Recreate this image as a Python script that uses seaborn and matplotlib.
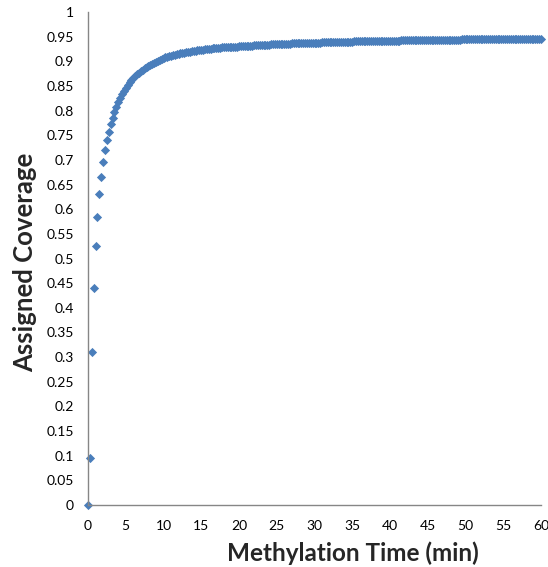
import numpy as np
import pandas as pd
import matplotlib
matplotlib.use("Agg")
import matplotlib.pyplot as plt
import seaborn as sns

# Sampling grid of methylation time (min)
t_start, t_step, t_count = 0.0, 0.25, 241

# Assigned coverage, in time order
cov_rise = [0.000, 0.095, 0.310, 0.440, 0.525, 0.585, 0.630, 0.665, 0.695, 0.720,
            0.740, 0.757, 0.772, 0.785, 0.797, 0.807, 0.817, 0.825, 0.833, 0.840,
            0.846, 0.852, 0.857, 0.862, 0.866, 0.870, 0.874, 0.877, 0.880, 0.883,
            0.886, 0.888, 0.891, 0.893, 0.895, 0.897, 0.899, 0.901, 0.903, 0.904]
cov_mid = [0.907, 0.908, 0.909, 0.910, 0.911, 0.912, 0.913, 0.914, 0.915, 0.916,
           0.916, 0.917, 0.918, 0.919, 0.919, 0.920, 0.920, 0.921, 0.922, 0.922,
           0.923, 0.923, 0.924, 0.924, 0.925, 0.925, 0.926, 0.926, 0.926, 0.927,
           0.927, 0.928, 0.928, 0.928, 0.929, 0.929, 0.929, 0.930, 0.930, 0.930,
           0.931, 0.931, 0.931, 0.931, 0.932, 0.932, 0.932, 0.932, 0.933, 0.933,
           0.933, 0.933, 0.934, 0.934, 0.934, 0.934, 0.934, 0.935, 0.935, 0.935,
           0.935, 0.935, 0.936, 0.936, 0.936, 0.936, 0.936, 0.936, 0.937, 0.937,
           0.937, 0.937, 0.937, 0.937, 0.938, 0.938, 0.938, 0.938, 0.938, 0.938,
           0.938, 0.938, 0.938, 0.938, 0.939, 0.939]
cov_plateau = [0.939, 0.939, 0.939, 0.939, 0.939, 0.940, 0.940, 0.940, 0.940, 0.940,
               0.940, 0.940, 0.940, 0.940, 0.940, 0.941, 0.941, 0.941, 0.941, 0.941,
               0.941, 0.941, 0.941, 0.941, 0.941, 0.941, 0.942, 0.942, 0.942, 0.942,
               0.942, 0.942, 0.942, 0.942, 0.942, 0.942, 0.942, 0.942, 0.942, 0.942,
               0.943, 0.943, 0.943, 0.943, 0.943, 0.943, 0.943, 0.943, 0.943, 0.943,
               0.943, 0.943, 0.943, 0.943, 0.944, 0.944, 0.944, 0.944, 0.944, 0.944,
               0.944, 0.944, 0.944, 0.944, 0.944, 0.944, 0.944, 0.944, 0.944, 0.944,
               0.944, 0.944, 0.945, 0.945, 0.945, 0.945, 0.945, 0.945, 0.945, 0.945,
               0.945, 0.945, 0.945, 0.945, 0.945, 0.945, 0.945, 0.945, 0.945, 0.945,
               0.945, 0.945, 0.945, 0.945, 0.946, 0.946, 0.946, 0.946, 0.946, 0.946,
               0.946, 0.946, 0.946, 0.946, 0.946, 0.946, 0.946, 0.946, 0.946, 0.946,
               0.946, 0.946, 0.946, 0.946, 0.946]

coverage = cov_rise + cov_mid + cov_plateau
time_min = t_start + t_step * np.arange(len(coverage))

x_ticks = [0, 5, 10, 15, 20, 25, 30, 35, 40, 45, 50, 55, 60]
y_ticks = [0, 0.05, 0.1, 0.15, 0.2, 0.25, 0.3, 0.35, 0.4, 0.45, 0.5, 0.55, 0.6,
           0.65, 0.7, 0.75, 0.8, 0.85, 0.9, 0.95, 1]
y_tick_labels = ["0", "0.05", "0.1", "0.15", "0.2", "0.25", "0.3", "0.35", "0.4",
                 "0.45", "0.5", "0.55", "0.6", "0.65", "0.7", "0.75", "0.8", "0.85",
                 "0.9", "0.95", "1"]

df = pd.DataFrame({"Methylation Time (min)": time_min, "Assigned Coverage": coverage})

sns.set_theme(style="white")
plt.rcParams["font.family"] = ["Lato", "DejaVu Sans"]

fig = plt.figure(figsize=(5.48, 5.67), dpi=100)
ax = fig.add_axes([88 / 548, 1 - 505 / 567, (541 - 88) / 548, (505 - 12) / 567])

sns.scatterplot(data=df, x="Methylation Time (min)", y="Assigned Coverage", ax=ax,
                marker="D", s=22, color="#4a7ebb", linewidth=0, clip_on=False)

ax.set_xlim(0, 60)
ax.set_ylim(0, 1)
ax.set_xticks(x_ticks)
ax.set_xticklabels([str(v) for v in x_ticks])
ax.set_yticks(y_ticks)
ax.set_yticklabels(y_tick_labels)

for side in ["top", "right"]:
    ax.spines[side].set_visible(False)
for side in ["left", "bottom"]:
    ax.spines[side].set_color("#868686")
    ax.spines[side].set_linewidth(1.0)

ax.tick_params(axis="both", which="major", direction="out", length=4, width=1,
               color="#868686", labelsize=10, labelcolor="#000000")
ax.tick_params(axis="y", pad=6)
ax.tick_params(axis="x", pad=7)

ax.set_xlabel("Methylation Time (min)", fontsize=17.5, fontweight="bold")
ax.set_ylabel("Assigned Coverage", fontsize=18.5, fontweight="bold")
ax.xaxis.set_label_coords(0.585, -0.073)
ax.yaxis.set_label_coords(-0.112, 0.492)

fig.savefig("out.png", dpi=100)
